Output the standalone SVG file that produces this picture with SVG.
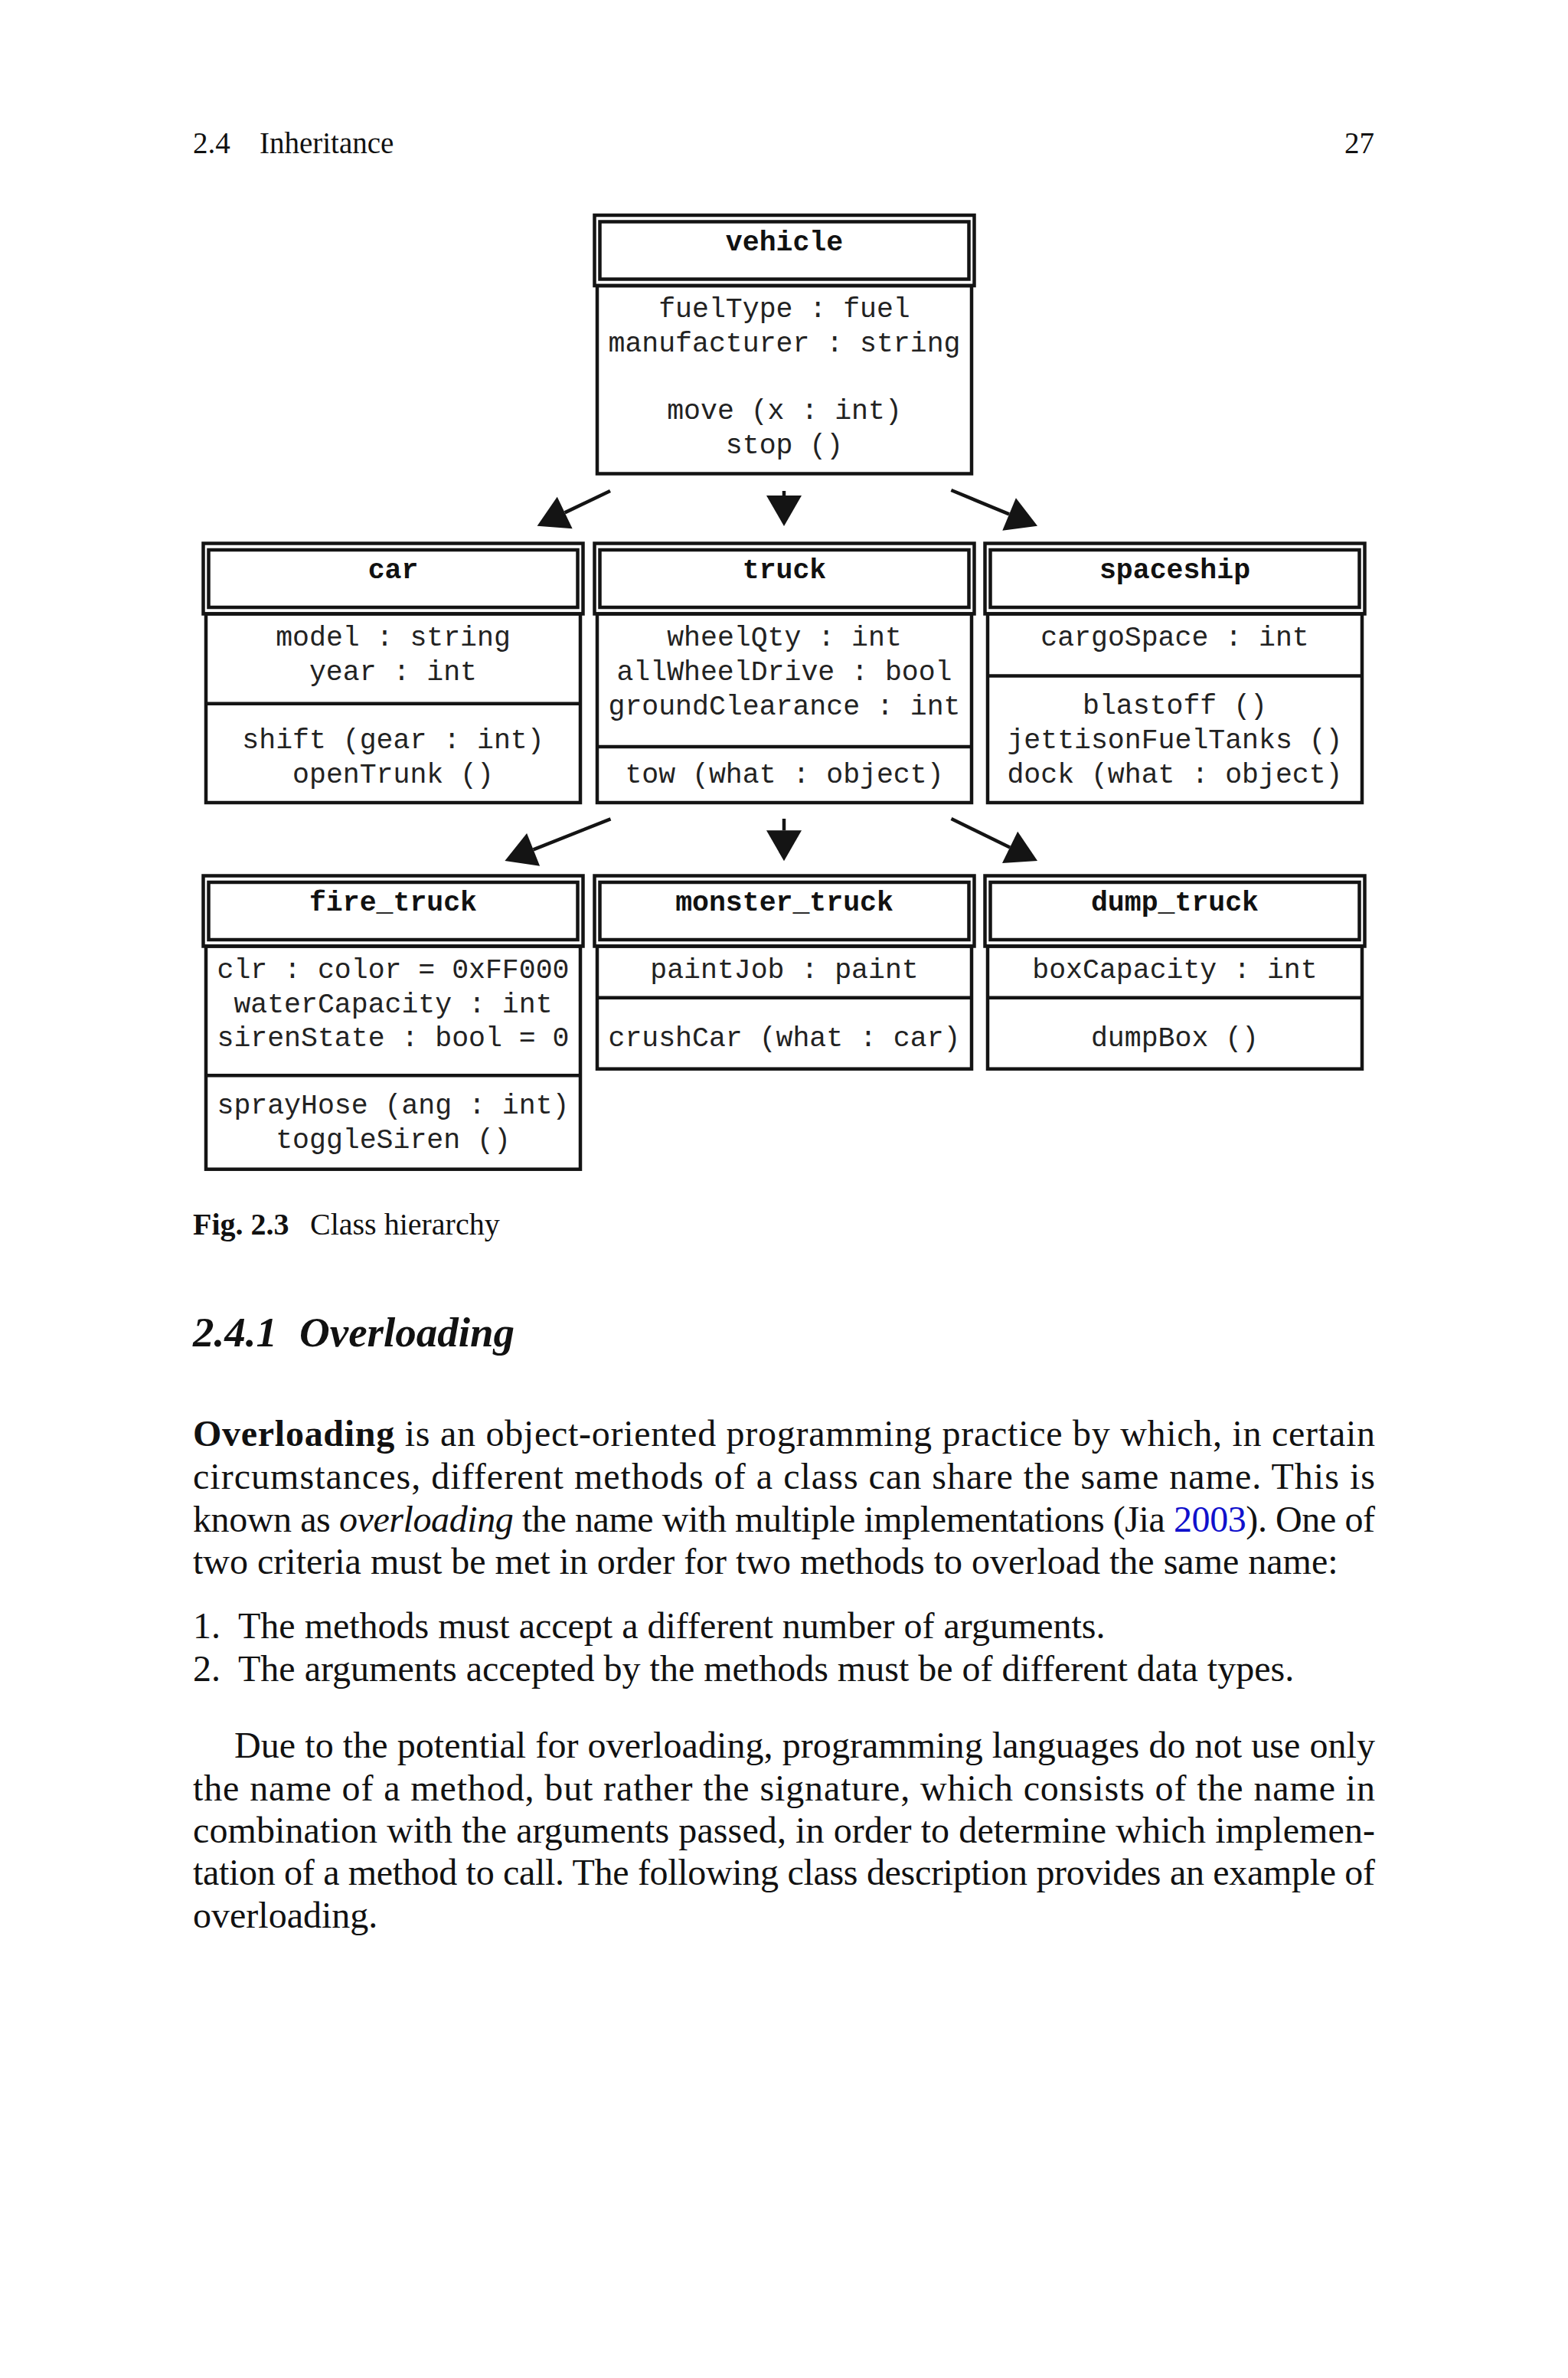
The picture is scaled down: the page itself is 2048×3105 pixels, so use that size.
<svg xmlns="http://www.w3.org/2000/svg" width="2048" height="3105" viewBox="0 0 2048 3105">
<style>
.bg{fill:#ffffff}
.ln{fill:none;stroke:#141414;stroke-width:4.5}
.conn{fill:none;stroke:#141414;stroke-width:4.5}
.ttl{font-family:"Liberation Mono","Courier New",monospace;font-weight:bold;font-size:36.5px;text-anchor:middle;fill:#111}
.mono{font-family:"Liberation Mono","Courier New",monospace;font-size:36.5px;text-anchor:middle;fill:#222}
.serif{font-family:"Liberation Serif","Times New Roman",serif;fill:#111}
.page{font-size:39px}
.cap{font-size:40px}
.head{font-size:55px;font-weight:bold;font-style:italic}
.txt{font-size:48px}
.b{font-weight:bold}
.i{font-style:italic}
.link{fill:#1010cc}
</style>
<defs>
<marker id="ah" markerUnits="userSpaceOnUse" markerWidth="42" markerHeight="48" refX="0" refY="23" orient="auto" overflow="visible">
<path d="M0,0 L40,23 L0,46 Z" fill="#141414"/>
</marker>
</defs>
<rect class="bg" x="0" y="0" width="2048" height="3105"/>

<!-- running head -->
<text class="serif page" x="252" y="200">2.4</text>
<text class="serif page" x="339" y="200">Inheritance</text>
<text class="serif page" x="1795" y="200" text-anchor="end">27</text>

<!-- vehicle -->
<g id="vehicle">
<rect class="ln" x="776.5" y="281" width="496" height="92"/>
<rect class="ln" x="783.5" y="289.5" width="482" height="75"/>
<rect class="ln" x="780" y="373" width="489" height="245.5"/>
<text class="ttl" x="1024.5" y="326.5">vehicle</text>
<text class="mono" x="1024.5" y="414">fuelType : fuel</text>
<text class="mono" x="1024.5" y="459">manufacturer : string</text>
<text class="mono" x="1024.5" y="547">move (x : int)</text>
<text class="mono" x="1024.5" y="592">stop ()</text>
</g>

<!-- car -->
<g id="car">
<rect class="ln" x="265.5" y="709.5" width="496" height="92"/>
<rect class="ln" x="272.5" y="718" width="482" height="75"/>
<rect class="ln" x="269" y="801.5" width="489" height="246.5"/>
<line class="ln" x1="269" y1="918.7" x2="758" y2="918.7"/>
<text class="ttl" x="513.5" y="755">car</text>
<text class="mono" x="513.5" y="843">model : string</text>
<text class="mono" x="513.5" y="888">year : int</text>
<text class="mono" x="513.5" y="977">shift (gear : int)</text>
<text class="mono" x="513.5" y="1022">openTrunk ()</text>
</g>

<!-- truck -->
<g id="truck">
<rect class="ln" x="776.5" y="709.5" width="496" height="92"/>
<rect class="ln" x="783.5" y="718" width="482" height="75"/>
<rect class="ln" x="780" y="801.5" width="489" height="246.5"/>
<line class="ln" x1="780" y1="975" x2="1269" y2="975"/>
<text class="ttl" x="1024.5" y="755">truck</text>
<text class="mono" x="1024.5" y="843">wheelQty : int</text>
<text class="mono" x="1024.5" y="888">allWheelDrive : bool</text>
<text class="mono" x="1024.5" y="933">groundClearance : int</text>
<text class="mono" x="1024.5" y="1022">tow (what : object)</text>
</g>

<!-- spaceship -->
<g id="spaceship">
<rect class="ln" x="1286.5" y="709.5" width="496" height="92"/>
<rect class="ln" x="1293.5" y="718" width="482" height="75"/>
<rect class="ln" x="1290" y="801.5" width="489" height="246.5"/>
<line class="ln" x1="1290" y1="882.5" x2="1779" y2="882.5"/>
<text class="ttl" x="1534.5" y="755">spaceship</text>
<text class="mono" x="1534.5" y="843">cargoSpace : int</text>
<text class="mono" x="1534.5" y="932">blastoff ()</text>
<text class="mono" x="1534.5" y="977">jettisonFuelTanks ()</text>
<text class="mono" x="1534.5" y="1022">dock (what : object)</text>
</g>

<!-- fire_truck -->
<g id="fire_truck">
<rect class="ln" x="265.5" y="1143.5" width="496" height="92"/>
<rect class="ln" x="272.5" y="1152" width="482" height="75"/>
<rect class="ln" x="269" y="1235.5" width="489" height="291.2"/>
<line class="ln" x1="269" y1="1404.3" x2="758" y2="1404.3"/>
<text class="ttl" x="513.5" y="1189">fire_truck</text>
<text class="mono" x="513.5" y="1277">clr : color = 0xFF000</text>
<text class="mono" x="513.5" y="1322">waterCapacity : int</text>
<text class="mono" x="513.5" y="1366">sirenState : bool = 0</text>
<text class="mono" x="513.5" y="1454">sprayHose (ang : int)</text>
<text class="mono" x="513.5" y="1499">toggleSiren ()</text>
</g>

<!-- monster_truck -->
<g id="monster_truck">
<rect class="ln" x="776.5" y="1143.5" width="496" height="92"/>
<rect class="ln" x="783.5" y="1152" width="482" height="75"/>
<rect class="ln" x="780" y="1235.5" width="489" height="160.2"/>
<line class="ln" x1="780" y1="1302.7" x2="1269" y2="1302.7"/>
<text class="ttl" x="1024.5" y="1189">monster_truck</text>
<text class="mono" x="1024.5" y="1277">paintJob : paint</text>
<text class="mono" x="1024.5" y="1366">crushCar (what : car)</text>
</g>

<!-- dump_truck -->
<g id="dump_truck">
<rect class="ln" x="1286.5" y="1143.5" width="496" height="92"/>
<rect class="ln" x="1293.5" y="1152" width="482" height="75"/>
<rect class="ln" x="1290" y="1235.5" width="489" height="160.2"/>
<line class="ln" x1="1290" y1="1302.7" x2="1779" y2="1302.7"/>
<text class="ttl" x="1534.5" y="1189">dump_truck</text>
<text class="mono" x="1534.5" y="1277">boxCapacity : int</text>
<text class="mono" x="1534.5" y="1366">dumpBox ()</text>
</g>

<!-- connectors -->
<g id="connectors">
<line class="conn" x1="797" y1="641" x2="737.7" y2="669.4" marker-end="url(#ah)"/>
<line class="conn" x1="1024" y1="641" x2="1024" y2="647" marker-end="url(#ah)"/>
<line class="conn" x1="1242.4" y1="640" x2="1318.1" y2="671.4" marker-end="url(#ah)"/>
<line class="conn" x1="797.5" y1="1069.3" x2="696.6" y2="1109.3" marker-end="url(#ah)"/>
<line class="conn" x1="1024" y1="1069" x2="1024" y2="1084.3" marker-end="url(#ah)"/>
<line class="conn" x1="1242.5" y1="1069" x2="1319.1" y2="1106.4" marker-end="url(#ah)"/>
</g>

<!-- caption -->
<text class="serif cap" x="252" y="1612"><tspan class="b">Fig. 2.3</tspan></text>
<text class="serif cap" x="405" y="1612">Class hierarchy</text>

<!-- section heading -->
<text class="serif head" x="252" y="1758">2.4.1</text>
<text class="serif head" x="391" y="1758">Overloading</text>

<!-- paragraph 1 -->
<text class="serif txt" x="252" y="1888" textLength="1544" lengthAdjust="spacing"><tspan class="b">Overloading</tspan> is an object-oriented programming practice by which, in certain</text>
<text class="serif txt" x="252" y="1944" textLength="1544" lengthAdjust="spacing">circumstances, different methods of a class can share the same name. This is</text>
<text class="serif txt" x="252" y="2000" textLength="1544" lengthAdjust="spacing">known as <tspan class="i">overloading</tspan> the name with multiple implementations (Jia <tspan class="link">2003</tspan>). One of</text>
<text class="serif txt" x="252" y="2055">two criteria must be met in order for two methods to overload the same name:</text>

<!-- list -->
<text class="serif txt" x="252" y="2139">1.</text>
<text class="serif txt" x="311" y="2139">The methods must accept a different number of arguments.</text>
<text class="serif txt" x="252" y="2195">2.</text>
<text class="serif txt" x="311" y="2195">The arguments accepted by the methods must be of different data types.</text>

<!-- paragraph 2 -->
<text class="serif txt" x="306" y="2295" textLength="1490" lengthAdjust="spacing">Due to the potential for overloading, programming languages do not use only</text>
<text class="serif txt" x="252" y="2351" textLength="1544" lengthAdjust="spacing">the name of a method, but rather the signature, which consists of the name in</text>
<text class="serif txt" x="252" y="2406" textLength="1544" lengthAdjust="spacing">combination with the arguments passed, in order to determine which implemen-</text>
<text class="serif txt" x="252" y="2461" textLength="1544" lengthAdjust="spacing">tation of a method to call. The following class description provides an example of</text>
<text class="serif txt" x="252" y="2517">overloading.</text>
</svg>
